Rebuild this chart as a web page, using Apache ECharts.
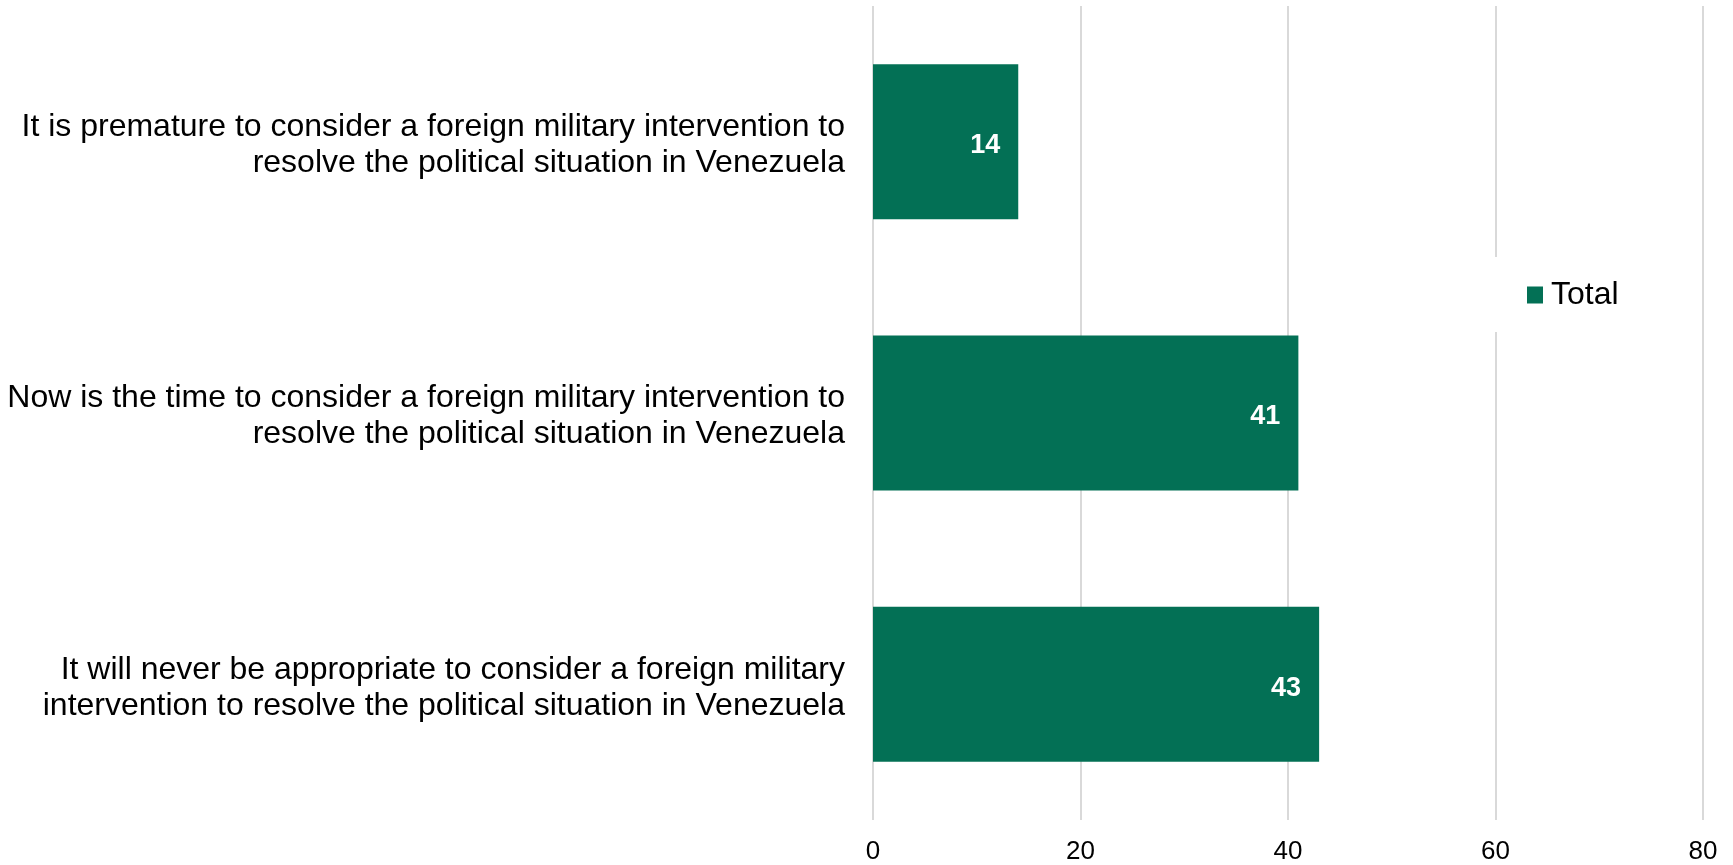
<!DOCTYPE html>
<html>
<head>
<meta charset="utf-8">
<style>
  * { margin: 0; padding: 0; }
  #container { width: 1733px; height: 865px; background: #fff; }
</style>
</head>
<body>
<div id="container"></div>
<script src="https://cdn.jsdelivr.net/npm/echarts@6/dist/echarts.min.js"></script>
<script>
  var categories = [
    'It is premature to consider a foreign military intervention to\nresolve the political situation in Venezuela',
    'Now is the time to consider a foreign military intervention to\nresolve the political situation in Venezuela',
    'It will never be appropriate to consider a foreign military\nintervention to resolve the political situation in Venezuela'
  ];
  var totals = [14, 41, 43];
  var xTicks = [0, 20, 40, 60, 80];

  var myChart = echarts.init(document.getElementById('container'));

  var option = {
    animation: false,
    textStyle: { fontFamily: 'Liberation Sans, Arial, sans-serif' },
    grid: {
      left: 873, right: 30, top: 6, bottom: 45,
      containLabel: false,
      outerBoundsMode: 'none'
    },
    legend: {
      data: ['Total'],
      left: 1493,
      top: 257,
      orient: 'vertical',
      backgroundColor: '#fff',
      padding: [22, 20, 21, 34],
      itemWidth: 16,
      itemHeight: 17,
      icon: 'rect',
      textStyle: { fontSize: 32, color: '#000', padding: [0, 0, 0, 3] }
    },
    xAxis: {
      type: 'value',
      min: xTicks[0],
      max: xTicks[xTicks.length - 1],
      interval: 20,
      axisLine: { show: false },
      axisTick: { show: false },
      splitLine: { show: true, lineStyle: { color: '#d9d9d9', width: 2 } },
      axisLabel: { fontSize: 26, color: '#000', margin: 19 }
    },
    yAxis: {
      type: 'category',
      inverse: true,
      data: categories,
      axisLine: { show: false },
      axisTick: { show: false },
      axisLabel: {
        fontSize: 32,
        lineHeight: 36,
        color: '#000',
        align: 'right',
        margin: 28,
        // small empty first line nudges the two text lines down a little
        formatter: function (v) { return '{p| }\n' + v; },
        rich: { p: { fontSize: 1, lineHeight: 7 } }
      }
    },
    series: [{
      name: 'Total',
      type: 'bar',
      data: totals,
      barWidth: 155,
      itemStyle: { color: '#037055' },
      label: {
        show: true,
        position: 'insideRight',
        distance: 18,
        offset: [0, 4],
        color: '#fff',
        fontWeight: 'bold',
        fontSize: 27
      }
    }]
  };

  myChart.setOption(option);
</script>
</body>
</html>
